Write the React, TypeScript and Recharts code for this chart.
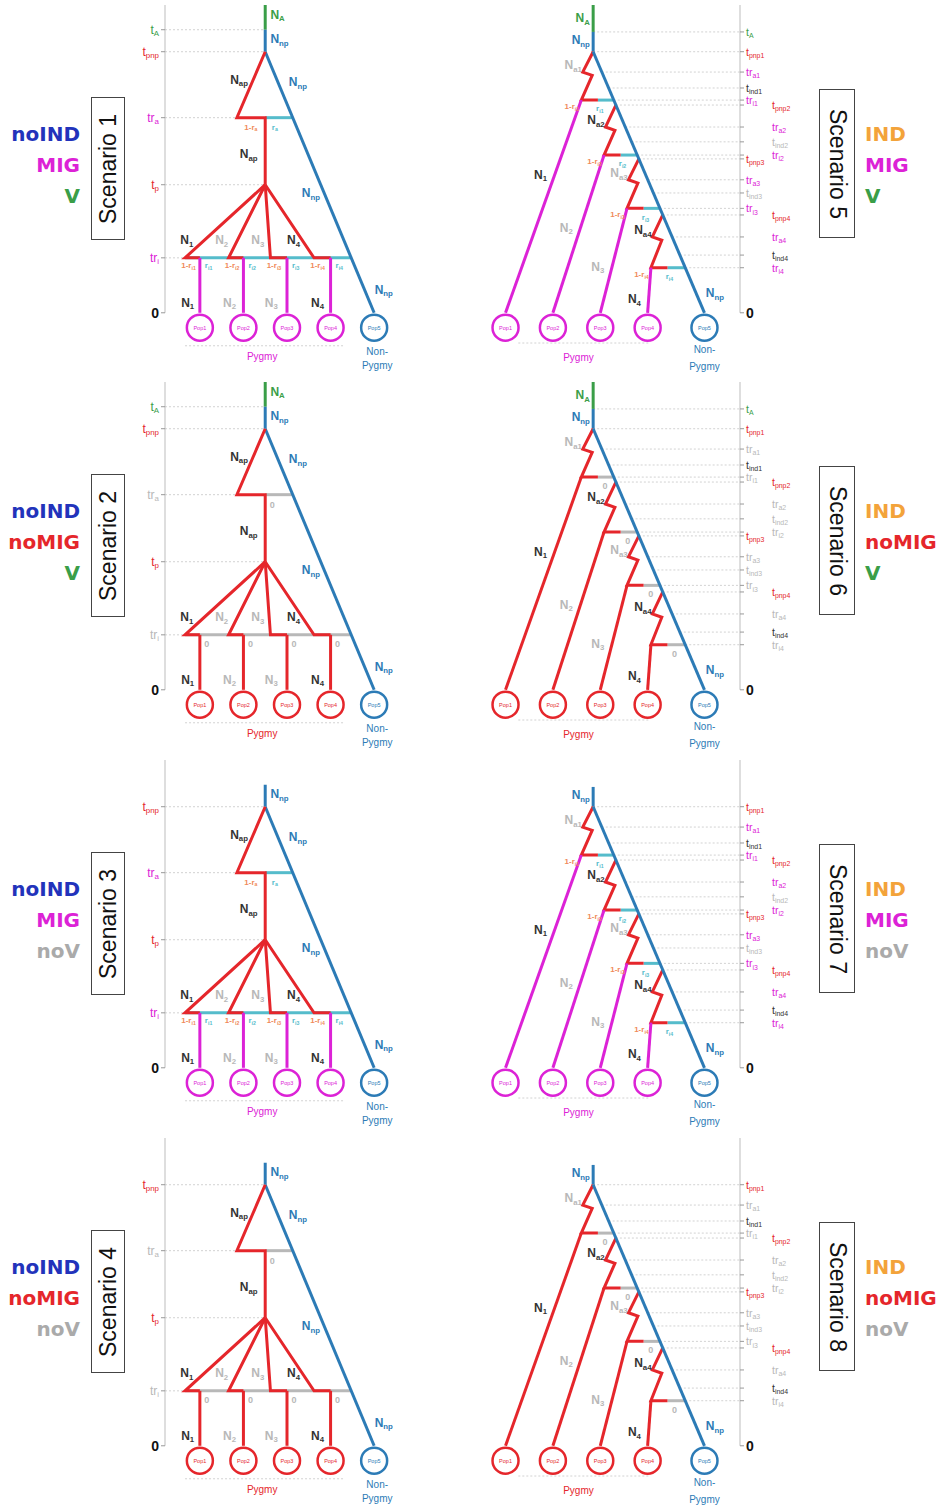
import React from "react";
import { ComposedChart, Line, Scatter, XAxis, YAxis } from "recharts";

// scenario switches (1-4 left column, 5-8 right column)
const scenarioIds = [1, 2, 3, 4, 5, 6, 7, 8];
const scenarioInd = [false, false, false, false, true, true, true, true];
const scenarioMig = [true, false, true, false, true, false, true, false];
const scenarioVar = [true, true, false, false, true, true, false, false];

// populations sampled today (x = slot along the tree)
const pygmySlots = [1, 2, 3, 4];
const popNames = ["Pop1", "Pop2", "Pop3", "Pop4"];
const nonPygmyName = "Pop5";

// scenarios 1-4: times (0 = present)
const leftTop = 5.6;
const leftTA = 5.15;
const leftTpnp = 4.75;
const leftTra = 3.55;
const leftTp = 2.33;
const leftTri = 1.0;
const leftRootSlot = 2.5;
const leftNonPygmySlot = 5;
const leftKinkSlot = 1.85;
const leftFootSlots = [0.66, 1.66, 2.62, 3.62];

// scenarios 5-8: one split per pygmy population
const rightTop = 5.6;
const rightTA = 5.11;
const rightTpnp = [4.75, 3.78, 2.8, 1.78];
const rightTra = [4.38, 3.38, 2.42, 1.38];
const rightTind = [4.09, 3.11, 2.18, 1.05];
const rightTri = [3.87, 2.87, 1.9, 0.82];
const rightRootSlot = 2.85;
const rightNonPygmySlot = 5.2;

const RED = "#e5262b";
const MAG = "#dc22d6";
const BLUE = "#2c7bb6";
const GREEN = "#3a9e48";
const TEAL = "#55bccb";
const GRAY = "#b8b8b8";
const DARK = "#333333";
const GRID = "#d2d2d2";
const NAVY = "#2233bb";
const ORANGE = "#f3a33a";
const SOFT_RED = "#f08a5a";

const FONT = "'Liberation Sans', Arial, sans-serif";
const BOLD_FONT = "'DejaVu Sans', 'Liberation Sans', sans-serif";
const CHART_H = 377;
const T_DOMAIN: [number, number] = [-1.15, 5.6];
const ROW_TOP = [0, 377, 755, 1133];

type P = { x: number; t: number };
type Seg = { pts: P[]; color: string; w: number; dash?: string };
type Lab = { x: number; t: number; main: string; sub?: string; color: string; size?: number; anchor?: string; bold?: boolean };
type Tick = { t: number; main: string; sub?: string; color: string; dx?: number; bold?: boolean };
type Pop = { x: number; t: number; name: string; color: string };

const mk = (x: number, t: number, main: string, sub: string, color: string, extra: Partial<Lab> = {}): Lab => ({ x, t, main, sub, color, ...extra });

function TextMark(p: any) {
  const { cx, cy, payload: d } = p;
  if (cx == null || !d) return <g />;
  const size = d.size ?? 12;
  return (
    <text x={cx} y={cy} textAnchor={d.anchor ?? "middle"} dominantBaseline="central" fill={d.color}
      fontSize={size} fontWeight={d.bold === false ? 400 : 700} fontFamily={FONT}>
      {d.main}
      {d.sub ? <tspan dy={size * 0.3} fontSize={size * 0.65}>{d.sub}</tspan> : null}
    </text>
  );
}

function PopMark(p: any) {
  const { cx, cy, payload: d } = p;
  if (cx == null || !d) return <g />;
  return (
    <g>
      <circle cx={cx} cy={cy} r={13} fill="#fff" stroke={d.color} strokeWidth={2.5} />
      <text x={cx} y={cy} textAnchor="middle" dominantBaseline="central" fontSize={5.5} fill={d.color} fontFamily={FONT}>{d.name}</text>
    </g>
  );
}

const renderTick = (defs: Tick[], side: "left" | "right") => (p: any) => {
  const v = p.payload?.value;
  const d = defs.find((q) => Math.abs(q.t - v) < 1e-6);
  if (!d) return <g />;
  const size = d.bold ? 14 : side === "left" ? 12 : 10.5;
  return (
    <text x={p.x + (d.dx ?? 0)} y={p.y} textAnchor={side === "left" ? "end" : "start"} dominantBaseline="central"
      fill={d.color} fontSize={size} fontWeight={d.bold ? 700 : 400} fontFamily={FONT}>
      {d.main}
      {d.sub ? <tspan dy={size * 0.3} fontSize={size * 0.66}>{d.sub}</tspan> : null}
    </text>
  );
};

function leftModel(mig: boolean, v: boolean) {
  const lin = mig ? MAG : RED;
  const bar = mig ? TEAL : GRAY;
  const trCol = mig ? MAG : GRAY;
  const blueX = (t: number) => leftRootSlot + ((leftTpnp - t) / leftTpnp) * (leftNonPygmySlot - leftRootSlot);
  const ax = 0.2;
  const segs: Seg[] = [];
  const labs: Lab[] = [];
  const ticks: Tick[] = [];

  if (v) ticks.push({ t: leftTA, main: "t", sub: "A", color: GREEN });
  ticks.push({ t: leftTpnp, main: "t", sub: "pnp", color: RED });
  ticks.push({ t: leftTra, main: "tr", sub: "a", color: trCol });
  ticks.push({ t: leftTp, main: "t", sub: "p", color: RED });
  ticks.push({ t: leftTri, main: "tr", sub: "i", color: trCol });
  ticks.push({ t: 0, main: "0", color: "#111", bold: true });

  const gridEnds: [number, number][] = [[leftTpnp, leftRootSlot], [leftTra, leftKinkSlot], [leftTp, leftRootSlot], [leftTri, leftFootSlots[0]]];
  if (v) gridEnds.push([leftTA, leftRootSlot]);
  gridEnds.forEach(([t, x]) => segs.push({ pts: [{ x: ax, t }, { x, t }], color: GRID, w: 1, dash: "2 2" }));
  segs.push({ pts: [{ x: ax, t: 0 }, { x: ax, t: leftTop }], color: "#bdbdbd", w: 1 });

  // migration bars
  segs.push({ pts: [{ x: leftRootSlot, t: leftTra }, { x: blueX(leftTra), t: leftTra }], color: bar, w: 3 });
  segs.push({ pts: [{ x: leftFootSlots[0], t: leftTri }, { x: blueX(leftTri), t: leftTri }], color: bar, w: 3 });

  // stem + non-pygmy
  if (v) segs.push({ pts: [{ x: leftRootSlot, t: leftTop }, { x: leftRootSlot, t: leftTA }], color: GREEN, w: 3 });
  segs.push({ pts: [{ x: leftRootSlot, t: leftTA }, { x: leftRootSlot, t: leftTpnp }], color: BLUE, w: 3 });
  segs.push({ pts: [{ x: leftRootSlot, t: leftTpnp }, { x: leftNonPygmySlot, t: 0 }], color: BLUE, w: 3 });

  // ancestral pygmy
  segs.push({
    pts: [{ x: leftRootSlot, t: leftTpnp }, { x: leftKinkSlot, t: leftTra }, { x: leftRootSlot, t: leftTra }, { x: leftRootSlot, t: leftTp }],
    color: RED, w: 3,
  });
  pygmySlots.forEach((s, k) => {
    segs.push({ pts: [{ x: leftRootSlot, t: leftTp }, { x: leftFootSlots[k], t: leftTri }, { x: s, t: leftTri }], color: RED, w: 3 });
    segs.push({ pts: [{ x: s, t: leftTri }, { x: s, t: 0 }], color: lin, w: 3 });
  });
  segs.push({ pts: [{ x: 0.66, t: -0.6 }, { x: 4.33, t: -0.6 }], color: GRID, w: 1, dash: "2 2" });

  if (v) labs.push(mk(2.62, 5.42, "N", "A", GREEN, { anchor: "start" }));
  labs.push(mk(2.62, 4.98, "N", "np", BLUE, { anchor: "start" }));
  labs.push(mk(1.9, 4.24, "N", "ap", DARK));
  labs.push(mk(3.25, 4.2, "N", "np", BLUE));
  labs.push(mk(2.12, 2.88, "N", "ap", DARK));
  labs.push(mk(3.55, 2.18, "N", "np", BLUE));
  const nCol = [DARK, GRAY, GRAY, DARK];
  [0.7, 1.5, 2.33, 3.15].forEach((x, k) => labs.push(mk(x, 1.32, "N", String(k + 1), nCol[k])));
  [0.72, 1.68, 2.64, 3.7].forEach((x, k) => labs.push(mk(x, 0.18, "N", String(k + 1), nCol[k])));
  labs.push(mk(5.22, 0.42, "N", "np", BLUE));
  if (mig) {
    labs.push(mk(2.17, 3.38, "1-r", "a", SOFT_RED, { size: 8 }));
    labs.push(mk(2.72, 3.38, "r", "a", TEAL, { size: 8 }));
    pygmySlots.forEach((s, k) => {
      labs.push(mk(leftFootSlots[k] + 0.08, 0.86, "1-r", "i" + (k + 1), SOFT_RED, { size: 8 }));
      labs.push(mk(s + 0.2, 0.86, "r", "i" + (k + 1), TEAL, { size: 8 }));
    });
  } else {
    labs.push(mk(2.66, 3.36, "0", "", GRAY, { size: 9 }));
    pygmySlots.forEach((s) => labs.push(mk(s + 0.16, 0.84, "0", "", GRAY, { size: 9 })));
  }
  labs.push(mk(2.43, -0.8, "Pygmy", "", lin, { size: 10, bold: false }));
  labs.push(mk(5.07, -0.71, "Non-", "", BLUE, { size: 10, bold: false }));
  labs.push(mk(5.07, -0.96, "Pygmy", "", BLUE, { size: 10, bold: false }));

  const pops: Pop[] = pygmySlots.map((s, k) => ({ x: s, t: -0.27, name: popNames[k], color: lin }));
  pops.push({ x: leftNonPygmySlot, t: -0.27, name: nonPygmyName, color: BLUE });
  return { segs, labs, ticks, pops };
}

function rightModel(mig: boolean, v: boolean) {
  const lin = mig ? MAG : RED;
  const bar = mig ? TEAL : GRAY;
  const trCol = mig ? MAG : GRAY;
  const p0 = rightTpnp[0];
  const blueX = (t: number) => (t >= p0 ? rightRootSlot : rightRootSlot + ((p0 - t) / p0) * (rightNonPygmySlot - rightRootSlot));
  const ax = 5.95;
  const segs: Seg[] = [];
  const labs: Lab[] = [];
  const ticks: Tick[] = [];

  if (v) ticks.push({ t: rightTA, main: "t", sub: "A", color: GREEN });
  rightTpnp.forEach((_, k) => {
    const dx = k % 2 === 1 ? 26 : 0;
    ticks.push({ t: rightTpnp[k], main: "t", sub: "pnp" + (k + 1), color: RED, dx });
    ticks.push({ t: rightTra[k], main: "tr", sub: "a" + (k + 1), color: trCol, dx });
    ticks.push({ t: rightTind[k], main: "t", sub: "ind" + (k + 1), color: k === 0 || k === 3 ? DARK : GRAY, dx });
    ticks.push({ t: rightTri[k], main: "tr", sub: "i" + (k + 1), color: trCol, dx });
  });
  ticks.push({ t: 0, main: "0", color: "#111", bold: true });

  ticks.filter((d) => d.t > 0).forEach((d) => segs.push({ pts: [{ x: blueX(d.t), t: d.t }, { x: ax, t: d.t }], color: GRID, w: 1, dash: "2 2" }));
  segs.push({ pts: [{ x: ax, t: 0 }, { x: ax, t: rightTop }], color: "#bdbdbd", w: 1 });

  if (v) segs.push({ pts: [{ x: rightRootSlot, t: rightTop }, { x: rightRootSlot, t: rightTA }], color: GREEN, w: 3 });
  segs.push({ pts: [{ x: rightRootSlot, t: rightTA }, { x: rightRootSlot, t: p0 }], color: BLUE, w: 3 });

  const nCol = [DARK, GRAY, GRAY, DARK];
  const naCol = [GRAY, DARK, GRAY, DARK];
  const lineFrac = [0.35, 0.46, 0.56, 0.7];
  rightTpnp.forEach((p, k) => {
    const xb = blueX(p);
    const tri = rightTri[k];
    const tra = rightTra[k];
    const foot = { x: xb - 0.25, t: tri };
    segs.push({ pts: [{ x: xb + 0.1, t: tri }, { x: blueX(tri), t: tri }], color: bar, w: 3 });
    segs.push({
      pts: [{ x: xb, t: p }, { x: xb - 0.22, t: tra }, { x: xb - 0.02, t: tra - 0.06 }, foot, { x: xb + 0.1, t: tri }],
      color: RED, w: 3,
    });
    segs.push({ pts: [foot, { x: pygmySlots[k], t: 0 }], color: lin, w: 3 });

    labs.push(mk(xb - 0.42, tra + 0.12, "N", "a" + (k + 1), naCol[k]));
    const f = lineFrac[k];
    labs.push(mk(foot.x + f * (pygmySlots[k] - foot.x) - 0.3, tri * (1 - f), "N", String(k + 1), nCol[k]));
    if (mig) {
      labs.push(mk(foot.x - 0.2, tri - 0.12, "1-r", "i" + (k + 1), SOFT_RED, { size: 8 }));
      labs.push(mk(xb + 0.14, tri - 0.16, "r", "i" + (k + 1), TEAL, { size: 8 }));
    } else {
      labs.push(mk(xb + 0.25, tri - 0.16, "0", "", GRAY, { size: 9 }));
    }
  });
  segs.push({ pts: [{ x: rightRootSlot, t: p0 }, { x: rightNonPygmySlot, t: 0 }], color: BLUE, w: 3 });
  segs.push({ pts: [{ x: 1.27, t: -0.55 }, { x: 4.05, t: -0.55 }], color: GRID, w: 1, dash: "2 2" });

  if (v) labs.push(mk(2.78, 5.36, "N", "A", GREEN, { anchor: "end" }));
  labs.push(mk(2.78, 4.96, "N", "np", BLUE, { anchor: "end" }));
  labs.push(mk(5.42, 0.36, "N", "np", BLUE));
  labs.push(mk(2.54, -0.82, "Pygmy", "", lin, { size: 10, bold: false }));
  labs.push(mk(5.2, -0.67, "Non-", "", BLUE, { size: 10, bold: false }));
  labs.push(mk(5.2, -0.98, "Pygmy", "", BLUE, { size: 10, bold: false }));

  const pops: Pop[] = pygmySlots.map((s, k) => ({ x: s, t: -0.27, name: popNames[k], color: lin }));
  pops.push({ x: rightNonPygmySlot, t: -0.27, name: nonPygmyName, color: BLUE });
  return { segs, labs, ticks, pops };
}

function TreeChart({ model, side }: { model: ReturnType<typeof leftModel>; side: "left" | "right" }) {
  const left = side === "left";
  return (
    <ComposedChart width={left ? 470 : 469} height={CHART_H} margin={{ top: 5, right: 0, bottom: 1, left: 0 }}>
      <XAxis type="number" dataKey="x" domain={left ? [0.2, 7.2] : [0.25, 5.95]} hide />
      <YAxis type="number" dataKey="t" domain={T_DOMAIN} orientation={side} width={left ? 165 : 199}
        ticks={model.ticks.map((d) => d.t)} tick={renderTick(model.ticks, side)} interval={0}
        axisLine={false} tickLine={{ stroke: "#999" }} tickSize={4} tickMargin={2} />
      {model.segs.map((s, i) => (
        <Line key={i} data={s.pts} dataKey="t" type="linear" stroke={s.color} strokeWidth={s.w}
          strokeDasharray={s.dash} dot={false} activeDot={false} isAnimationActive={false} />
      ))}
      <Scatter data={model.pops} dataKey="t" shape={PopMark} isAnimationActive={false} />
      <Scatter data={model.labs} dataKey="t" shape={TextMark} isAnimationActive={false} />
    </ComposedChart>
  );
}

function Panel({ idx }: { idx: number }) {
  const id = scenarioIds[idx];
  const ind = scenarioInd[idx];
  const mig = scenarioMig[idx];
  const v = scenarioVar[idx];
  const left = !ind;
  const model = left ? leftModel(mig, v) : rightModel(mig, v);
  const row = idx % 4;
  return (
    <div style={{ position: "absolute", left: left ? 0 : 470, top: ROW_TOP[row], width: left ? 470 : 469, height: CHART_H }}>
      <TreeChart model={model} side={left ? "left" : "right"} />
      <div style={{
        position: "absolute", left: left ? 0 : 395, top: 119, width: left ? 80 : 74,
        textAlign: left ? "right" : "left", fontFamily: BOLD_FONT, fontWeight: 700, fontSize: 20, lineHeight: "31px",
      }}>
        <div style={{ color: ind ? ORANGE : NAVY }}>{ind ? "IND" : "noIND"}</div>
        <div style={{ color: mig ? MAG : RED }}>{mig ? "MIG" : "noMIG"}</div>
        <div style={{ color: v ? GREEN : "#aaaaaa" }}>{v ? "V" : "noV"}</div>
      </div>
      <div style={{
        position: "absolute", left: left ? 91 : 349, top: left ? 97 : 89, width: left ? 34 : 36, height: left ? 143 : 149,
        border: "1.5px solid #444", boxSizing: "border-box", display: "flex", alignItems: "center", justifyContent: "center",
      }}>
        <span style={{ writingMode: "vertical-rl", transform: left ? "rotate(180deg)" : undefined, fontFamily: FONT, fontSize: 23, color: "#111", whiteSpace: "nowrap" }}>
          Scenario {id}
        </span>
      </div>
    </div>
  );
}

export default function App() {
  return (
    <div style={{ position: "absolute", left: 0, top: 0, width: 939, height: 1508, background: "#fff", overflow: "hidden" }}>
      {scenarioIds.map((_, i) => <Panel key={i} idx={i} />)}
    </div>
  );
}
